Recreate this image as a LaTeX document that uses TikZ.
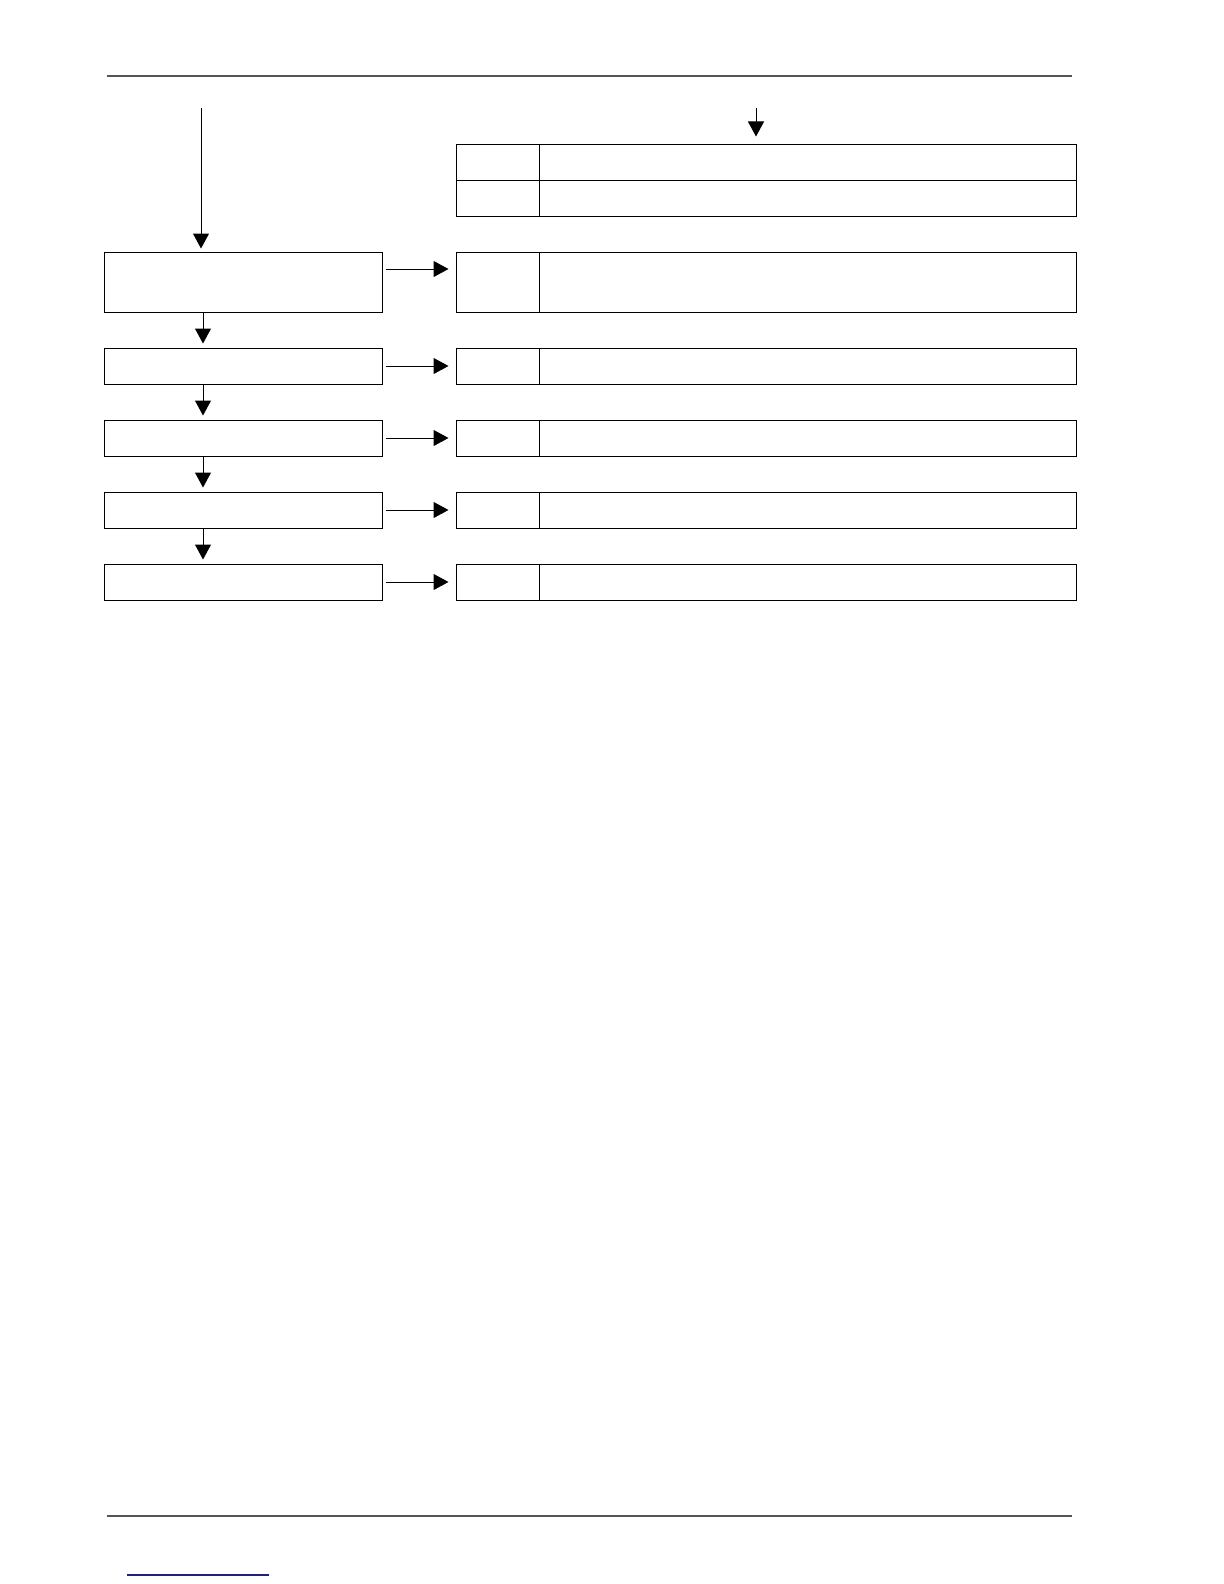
\documentclass[tikz,border=0pt]{standalone}
\usetikzlibrary{arrows.meta}
\definecolor{rulegray}{HTML}{555555}
\definecolor{linkblue}{HTML}{1A237E}
\tikzset{
  box/.style = {draw, line width=0.5pt, inner sep=0pt, minimum height=18pt},
  arr/.style = {line width=0.5pt, -{Triangle[length=7.5pt,width=8pt]}, shorten >=3pt}
}
\begin{document}
\begin{tikzpicture}[x=0.5pt, y=-0.5pt]
  \useasboundingbox (0,0) rectangle (1224,1584);
  %page rules
  \draw [rulegray, line width=0.7pt] (107,76) -- (1072,76);
  \draw [rulegray, line width=0.7pt] (107,1516) -- (1072,1516);
  \draw [linkblue, line width=0.7pt] (127,1575) -- (269,1575);
  %top table
  \node [box, minimum width=41.5pt] (tk1)at(497.5,162){};
  \node [box, minimum width=268.5pt] (tt1)at(807.5,162){};
  \node [box, minimum width=41.5pt] (tk2)at(497.5,198){};
  \node [box, minimum width=268.5pt] (tt2)at(807.5,198){};
  %left steps
  \node [box, minimum width=139pt, minimum height=30pt] (l1)at(243,282){};
  \node [box, minimum width=139pt] (l2)at(243,366){};
  \node [box, minimum width=139pt] (l3)at(243,438){};
  \node [box, minimum width=139pt] (l4)at(243,510){};
  \node [box, minimum width=139pt] (l5)at(243,582){};
  %right steps
  \node [box, minimum width=41.5pt, minimum height=30pt] (k1)at(497.5,282){};
  \node [box, minimum width=268.5pt, minimum height=30pt] (r1)at(807.5,282){};
  \node [box, minimum width=41.5pt] (k2)at(497.5,366){};
  \node [box, minimum width=268.5pt] (r2)at(807.5,366){};
  \node [box, minimum width=41.5pt] (k3)at(497.5,438){};
  \node [box, minimum width=268.5pt] (r3)at(807.5,438){};
  \node [box, minimum width=41.5pt] (k4)at(497.5,510){};
  \node [box, minimum width=268.5pt] (r4)at(807.5,510){};
  \node [box, minimum width=41.5pt] (k5)at(497.5,582){};
  \node [box, minimum width=268.5pt] (r5)at(807.5,582){};
  %incoming arrows
  \coordinate (lin) at (201,108);
  \coordinate (rin) at (756,108);
  \draw [arr, shorten >=1.5pt] (lin) -- (lin |- l1.north);
  \draw [arr, shorten >=3.5pt] (rin) -- (rin |- tt1.north);
  %down arrows
  \draw [arr, shorten >=2pt] ([xshift=-20pt]l1.south) -- ([xshift=-20pt]l2.north);
  \draw [arr, shorten >=2pt] ([xshift=-20pt]l2.south) -- ([xshift=-20pt]l3.north);
  \draw [arr, shorten >=2pt] ([xshift=-20pt]l3.south) -- ([xshift=-20pt]l4.north);
  \draw [arr, shorten >=2pt] ([xshift=-20pt]l4.south) -- ([xshift=-20pt]l5.north);
  %across arrows
  \draw [arr, shorten <=1.5pt, shorten >=3.5pt] ([yshift=6.5pt]l1.east) -- ([yshift=6.5pt]k1.west);
  \draw [arr, shorten <=1.5pt, shorten >=3.5pt] (l2.east) -- (k2.west);
  \draw [arr, shorten <=1.5pt, shorten >=3.5pt] (l3.east) -- (k3.west);
  \draw [arr, shorten <=1.5pt, shorten >=3.5pt] (l4.east) -- (k4.west);
  \draw [arr, shorten <=1.5pt, shorten >=3.5pt] (l5.east) -- (k5.west);
\end{tikzpicture}
\end{document}
